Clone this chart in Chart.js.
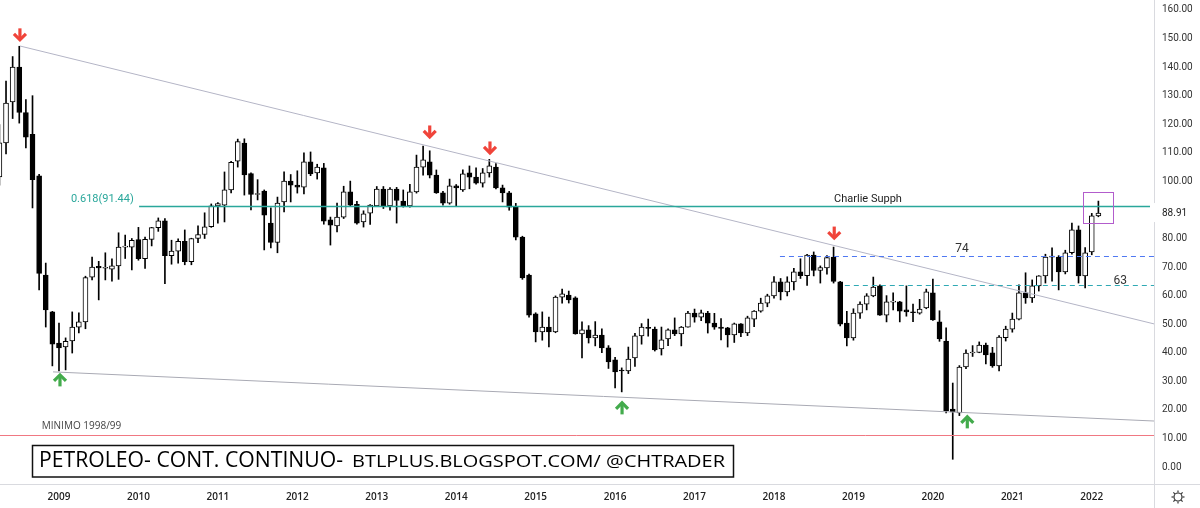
<!DOCTYPE html>
<html>
<head>
<meta charset="utf-8">
<script src="https://cdn.jsdelivr.net/npm/chart.js@4.4.1/dist/chart.umd.min.js"></script>
<style>
  html, body { margin: 0; padding: 0; background: #fff; }
  #wrap { width: 1200px; height: 508px; position: relative; }
</style>
</head>
<body>
<div id="wrap"><canvas id="oilChart"></canvas></div>
<script>
// Monthly candles, Apr 2008 .. Feb 2022
var firstYear = 2008, firstMonth = 4;

var opens = [
  101.6, 113.5, 127.8, 140.0, 124.1, 116.5, 101.9, 67.2, 54.3,                 // 2008
  43.4, 42.0, 44.1, 49.0, 50.8, 66.5, 70.3, 69.6, 69.3, 70.4, 77.0, 77.0,      // 2009
  79.6, 72.9, 79.7, 83.8, 86.2, 74.0, 75.6, 79.0, 71.9, 80.0, 81.4, 84.1,      // 2010
  91.4, 91.7, 97.0, 107.1, 113.4, 102.7, 95.4, 96.6, 85.4, 78.6, 92.8, 100.1,  // 2011
  98.7, 98.0, 106.8, 103.0, 104.7, 86.5, 84.4, 87.5, 96.3, 92.0, 85.8, 88.9,   // 2012
  91.4, 97.3, 91.4, 97.3, 93.1, 91.4, 96.3, 105.0, 106.8, 102.2, 96.0, 92.4,   // 2013
  98.4, 97.0, 103.0, 101.5, 99.4, 103.0, 105.0, 97.7, 96.0, 91.0, 80.5, 67.2,  // 2014
  53.6, 47.3, 49.0, 47.3, 59.5, 60.2, 59.2, 46.6, 48.0, 45.2, 46.2, 41.7,      // 2015
  37.5, 33.8, 33.6, 38.2, 45.9, 48.9, 48.3, 41.3, 44.8, 48.0, 46.6, 49.0,      // 2016
  53.9, 52.5, 53.9, 50.4, 49.0, 48.7, 46.2, 50.1, 46.9, 51.8, 54.6, 57.4,      // 2017
  59.9, 64.8, 61.3, 64.8, 68.3, 67.0, 74.2, 68.8, 69.7, 73.5, 64.8, 50.4,      // 2018
  45.2, 53.9, 57.0, 59.9, 63.4, 53.2, 57.7, 57.8, 55.0, 54.1, 53.9, 55.7,      // 2019
  61.0, 50.8, 44.1, 20.3, 18.9, 35.0, 39.9, 40.1, 42.7, 40.0, 35.4, 45.3,      // 2020
  48.3, 51.8, 61.0, 59.2, 63.4, 66.9, 73.5, 73.5, 68.3, 75.0, 83.0, 66.9,      // 2021
  75.3, 87.9                                                                   // 2022
];
var highs = [
  119.9, 135.1, 143.7, 147.3, 128.6, 130.0, 102.5, 71.4, 54.5,
  50.4, 45.2, 54.3, 54.0, 66.8, 73.5, 72.0, 75.0, 72.9, 82.0, 81.2, 80.0,
  83.9, 80.5, 83.9, 87.2, 87.0, 79.4, 79.9, 83.0, 80.1, 84.4, 89.0, 92.1,
  92.6, 103.3, 107.0, 114.8, 114.9, 103.0, 100.6, 97.0, 90.7, 94.5, 103.3, 102.4,
  103.7, 110.0, 110.3, 106.0, 106.3, 87.5, 92.4, 98.3, 100.1, 93.0, 89.7, 91.9,
  98.2, 98.2, 97.8, 97.9, 97.0, 99.0, 109.2, 112.4, 110.7, 104.0, 96.5, 100.8,
  98.9, 104.0, 105.4, 104.7, 104.5, 107.7, 106.2, 98.7, 96.5, 92.3, 80.8, 67.5,
  54.0, 54.3, 52.5, 59.9, 62.3, 61.6, 59.6, 50.8, 49.5, 50.9, 48.4, 42.5,
  38.4, 34.7, 42.0, 46.8, 50.2, 51.8, 49.0, 49.0, 48.4, 52.2, 49.2, 54.5,
  55.3, 54.9, 54.5, 53.8, 52.0, 48.9, 50.4, 50.2, 52.8, 54.8, 59.1, 60.5,
  66.7, 66.0, 66.6, 69.6, 72.9, 74.5, 75.3, 70.4, 74.0, 77.0, 65.0, 54.5,
  55.4, 57.8, 60.7, 66.5, 63.8, 60.0, 61.0, 58.0, 63.4, 57.0, 58.7, 62.3,
  65.8, 54.7, 48.7, 29.4, 35.5, 41.0, 42.5, 43.8, 43.4, 41.9, 46.0, 49.3,
  53.9, 63.8, 68.0, 65.5, 67.0, 74.5, 76.7, 74.0, 75.9, 85.4, 84.4, 76.8,
  88.8, 93.1
];
var lows = [
  98.7, 109.6, 122.0, 120.4, 111.7, 90.7, 62.0, 49.0, 35.4,
  33.6, 34.0, 39.9, 46.9, 48.4, 65.5, 58.5, 65.5, 65.1, 65.7, 73.0, 69.0,
  72.4, 69.5, 77.4, 82.5, 64.2, 71.0, 71.4, 70.8, 70.8, 78.5, 80.0, 83.9,
  85.4, 85.8, 96.0, 105.0, 95.2, 90.0, 93.5, 76.0, 76.7, 75.0, 89.3, 92.8,
  95.9, 95.6, 102.0, 100.8, 85.0, 77.7, 82.3, 87.0, 91.5, 85.0, 84.0, 84.9,
  91.3, 90.5, 89.9, 85.4, 91.0, 91.0, 95.9, 102.2, 101.2, 95.8, 91.7, 92.0,
  91.4, 96.5, 97.4, 99.0, 98.0, 101.5, 97.4, 92.8, 89.9, 79.5, 65.7, 52.5,
  43.8, 44.4, 42.0, 47.0, 57.4, 57.4, 46.5, 38.2, 43.4, 42.4, 40.0, 34.5,
  27.7, 26.3, 32.7, 35.2, 43.0, 45.8, 40.6, 39.2, 42.5, 46.0, 42.4, 49.0,
  50.7, 51.2, 46.9, 48.2, 44.5, 42.0, 43.6, 45.6, 46.0, 49.1, 54.2, 56.1,
  59.1, 58.5, 59.9, 62.0, 66.0, 63.6, 66.9, 64.4, 67.5, 64.4, 49.4, 42.4,
  44.4, 52.0, 55.0, 59.6, 53.1, 50.8, 55.0, 50.8, 52.8, 50.9, 53.5, 55.4,
  51.3, 44.0, 18.9, 2.7, 18.0, 34.4, 38.7, 40.0, 36.1, 34.9, 33.6, 44.1,
  47.2, 51.5, 57.3, 57.6, 61.6, 64.4, 65.1, 62.0, 67.6, 74.5, 64.4, 62.7,
  74.3, 87.6
];
var closes = [
  113.5, 127.4, 140.0, 124.1, 115.5, 100.6, 67.8, 55.0, 43.0,
  41.7, 44.0, 49.0, 50.8, 66.3, 70.0, 69.7, 69.9, 70.4, 77.0, 77.2, 79.4,
  72.9, 79.7, 83.8, 86.2, 74.0, 75.6, 79.0, 71.9, 80.0, 81.4, 84.1, 91.4,
  92.2, 97.0, 106.7, 113.9, 102.3, 95.4, 95.6, 88.2, 78.6, 92.4, 100.1, 98.7,
  98.0, 106.8, 102.6, 105.0, 86.1, 84.7, 87.5, 96.3, 91.7, 85.4, 88.6, 91.7,
  97.3, 91.4, 97.3, 93.3, 91.5, 96.3, 105.0, 107.5, 102.2, 96.0, 92.4, 98.4,
  97.7, 102.6, 101.5, 99.4, 103.0, 105.4, 97.7, 96.0, 91.0, 80.5, 66.2, 53.2,
  47.3, 49.0, 47.3, 59.5, 60.6, 58.5, 46.6, 48.0, 45.2, 46.2, 41.7, 36.8,
  33.3, 33.6, 37.8, 45.9, 49.0, 48.5, 41.0, 44.5, 48.0, 46.6, 49.0, 53.9,
  52.5, 54.0, 50.4, 49.0, 48.5, 46.2, 50.1, 46.9, 52.2, 54.6, 57.4, 59.9,
  64.8, 61.3, 64.8, 68.3, 67.0, 74.2, 68.8, 69.8, 73.3, 65.0, 50.0, 45.2,
  53.9, 57.0, 59.9, 63.0, 53.2, 57.8, 57.9, 54.6, 54.3, 54.0, 55.3, 61.3,
  51.5, 44.8, 19.6, 19.3, 35.0, 39.9, 40.1, 42.7, 39.2, 35.4, 45.5, 48.3,
  51.8, 61.0, 59.2, 63.4, 66.9, 73.5, 73.8, 68.3, 75.0, 83.0, 66.9, 75.0,
  87.9, 88.91
];

var yearLabels = ["2009", "2010", "2011", "2012", "2013", "2014", "2015",
                  "2016", "2017", "2018", "2019", "2020", "2021", "2022"];
var priceTicks = [0, 10, 20, 30, 40, 50, 60, 70, 80, 100, 110, 120, 130, 140, 150, 160];
var lastPrice = 88.91;

// drawn levels and lines, [month index, price]
var fibLevel = 91.44, level74 = 74, level63 = 63.6, minLevel = 11.2;
var upperLine = [[3.1, 147.4], [174.4, 50.1]];
var lowerLine = [[8.1, 33.3], [174.4, 16.1]];
var downArrows = [[3.1, 151.3], [65.0, 117.3], [74.1, 111.7], [126.1, 81.9]];
var upArrows = [[9.15, 30.5], [94.05, 20.7], [146.2, 15.8]];

var months = [];
for (var k = 0; k < opens.length; k++) {
  var m = firstMonth - 1 + k;
  months.push((firstYear + Math.floor(m / 12)) + "-" + String(m % 12 + 1).padStart(2, "0"));
}
var yearIndex = yearLabels.map(function (y) { return months.indexOf(y + "-01"); });

var bodies = months.map(function (mm, i) { return { x: i, y: [opens[i], closes[i]] }; });
var wicks = months.map(function (mm, i) { return { x: i, y: [lows[i], highs[i]] }; });

function noPad(s) { s.paddingTop = 0; s.paddingBottom = 0; s.paddingLeft = 0; s.paddingRight = 0; }

var overlay = {
  id: "overlay",
  afterDatasetsDraw: function (chart) {
    var c = chart.ctx, a = chart.chartArea;
    var px = function (v) { return chart.scales.x.getPixelForValue(v); };
    var py = function (v) { return chart.scales.y.getPixelForValue(v); };

    function seg(x1, y1, x2, y2, color, w, dash) {
      c.beginPath();
      c.strokeStyle = color; c.lineWidth = w; c.setLineDash(dash || []);
      c.moveTo(x1, y1); c.lineTo(x2, y2); c.stroke();
      c.setLineDash([]);
    }
    function hline(i0, price, color, w, dash) {
      var y = Math.round(py(price)) + 0.5;
      seg(px(i0), y, a.right, y, color, w, dash);
    }
    function text(str, x, y, color, size, align, family) {
      c.fillStyle = color; c.font = size + "px " + (family || "Roboto");
      c.textAlign = align || "left"; c.textBaseline = "middle";
      c.fillText(str, x, y);
    }
    function arrow(x, y, up, color) {
      c.save(); c.translate(x, y); if (up) c.scale(1, -1);
      c.strokeStyle = color; c.lineWidth = 3.2; c.lineJoin = "miter";
      c.beginPath(); c.moveTo(0, -6.5); c.lineTo(0, 4); c.stroke();
      c.beginPath(); c.moveTo(-6, -1); c.lineTo(0, 5); c.lineTo(6, -1); c.stroke();
      c.restore();
    }

    c.save();
    c.beginPath(); c.rect(a.left, a.top, a.right - a.left, a.bottom - a.top); c.clip();

    seg(px(upperLine[0][0]), py(upperLine[0][1]), px(upperLine[1][0]), py(upperLine[1][1]), "#b4b5c6", 1);
    seg(px(lowerLine[0][0]), py(lowerLine[0][1]), px(lowerLine[1][0]), py(lowerLine[1][1]), "#a9aab4", 1);

    hline(21.1, fibLevel, "#2aa79b", 1.5);
    hline(117.9, level74, "#4f78f2", 1.2, [5, 4]);
    hline(127.7, level63, "#2fa9b4", 1.2, [5, 4]);
    hline(0, minLevel, "rgb(240, 120, 130)", 1);

    // box around last candles
    c.strokeStyle = "#b25ccc"; c.lineWidth = 1;
    var rx = Math.round(px(163.7)) + 0.5, ry = Math.round(py(96.3)) + 0.5;
    c.strokeRect(rx, ry, Math.round(px(168.2) - px(163.7)), Math.round(py(85.4) - py(96.3)));

    downArrows.forEach(function (p) { arrow(px(p[0]), py(p[1]), false, "#f0443a"); });
    upArrows.forEach(function (p) { arrow(px(p[0]), py(p[1]), true, "#43ab4c"); });

    text("0.618(91.44)", px(10.8), py(93.8), "#2aa79b", 11);
    text("Charlie Supph", px(131.2), py(93.8), "#222", 11, "center");
    text("74", px(145.4), py(76.3), "#333", 12, "center");
    text("63", px(169.3), py(65.1), "#333", 12, "center");
    text("MINIMO 1998/99", px(6.4), py(14.4), "#444", 10, "left", "'Open Sans'");

    c.restore();
  },
  afterDraw: function (chart) {
    var c = chart.ctx;
    c.save();
    // pane borders
    c.strokeStyle = "#d9dadf"; c.lineWidth = 1;
    c.beginPath(); c.moveTo(1154.5, 0); c.lineTo(1154.5, 508); c.stroke();
    c.beginPath(); c.moveTo(0, 484.5); c.lineTo(1200, 484.5); c.stroke();

    // last price label
    var ly = chart.scales.y.getPixelForValue(lastPrice);
    c.fillStyle = "#fff"; c.fillRect(1150, ly - 10, 50, 19);
    c.fillStyle = "#222"; c.font = "10px Roboto"; c.textAlign = "left"; c.textBaseline = "middle";
    c.fillText(lastPrice.toFixed(2), 1162, ly);

    // title box
    c.strokeStyle = "#111"; c.lineWidth = 1.5;
    c.strokeRect(32.5, 445.5, 701, 31.5);
    c.fillStyle = "#000"; c.textAlign = "left"; c.textBaseline = "middle";
    function fitText(str, x, w, y, font) {
      c.font = font;
      var mw = c.measureText(str).width;
      c.save(); c.translate(x, y); c.scale(w / mw, 1); c.fillText(str, 0, 0); c.restore();
    }
    fitText("PETROLEO- CONT. CONTINUO-", 39, 304, 461, "21px 'Open Sans'");
    fitText("BTLPLUS.BLOGSPOT.COM/ @CHTRADER", 352, 373, 462, "17px 'Open Sans'");

    // settings icon
    c.strokeStyle = "#333"; c.lineWidth = 1.2;
    c.beginPath(); c.arc(1178, 497, 4, 0, Math.PI * 2); c.stroke();
    for (var t = 0; t < 8; t++) {
      var ang = t * Math.PI / 4;
      c.beginPath();
      c.moveTo(1178 + Math.cos(ang) * 4.5, 497 + Math.sin(ang) * 4.5);
      c.lineTo(1178 + Math.cos(ang) * 6.5, 497 + Math.sin(ang) * 6.5);
      c.stroke();
    }
    c.restore();
  }
};

new Chart(document.getElementById("oilChart"), {
  type: "bar",
  data: {
    datasets: [{
      label: "body",
      data: bodies,
      grouped: false,
      barThickness: 5,
      borderWidth: 1,
      borderColor: "#000",
      borderSkipped: false,
      minBarLength: 1,
      backgroundColor: function (ctx) {
        return closes[ctx.dataIndex] >= opens[ctx.dataIndex] ? "#fff" : "#000";
      },
    }, {
      label: "wick",
      data: wicks,
      grouped: false,
      barThickness: 1,
      borderWidth: 0,
      backgroundColor: "#000",
    }],
  },
  options: {
    animation: false,
    responsive: true,
    maintainAspectRatio: false,
    layout: { padding: 0 },
    plugins: { legend: { display: false }, tooltip: { enabled: false } },
    scales: {
      x: {
        type: "linear",
        min: 0.09,
        max: 174.4,
        offset: false,
        grid: { display: false, drawTicks: false },
        border: { display: false },
        afterBuildTicks: function (s) { s.ticks = yearIndex.map(function (v) { return { value: v }; }); },
        afterFit: function (s) { s.height = 24; noPad(s); },
        ticks: {
          autoSkip: false, maxRotation: 0, padding: 7, color: "#222",
          font: { family: "'Open Sans'", size: 10, weight: "600" },
          callback: function (v) { return yearLabels[yearIndex.indexOf(v)]; },
        },
      },
      y: {
        position: "right",
        min: -5.95,
        max: 163.5,
        grid: { display: false, drawTicks: false },
        border: { display: false },
        afterBuildTicks: function (s) { s.ticks = priceTicks.map(function (v) { return { value: v }; }); },
        afterFit: function (s) { s.width = 46; noPad(s); },
        ticks: {
          padding: 8, color: "#333",
          font: { family: "Roboto", size: 10 },
          callback: function (v) { return Number(v).toFixed(2); },
        },
      },
    },
  },
  plugins: [overlay],
});
</script>
</body>
</html>
